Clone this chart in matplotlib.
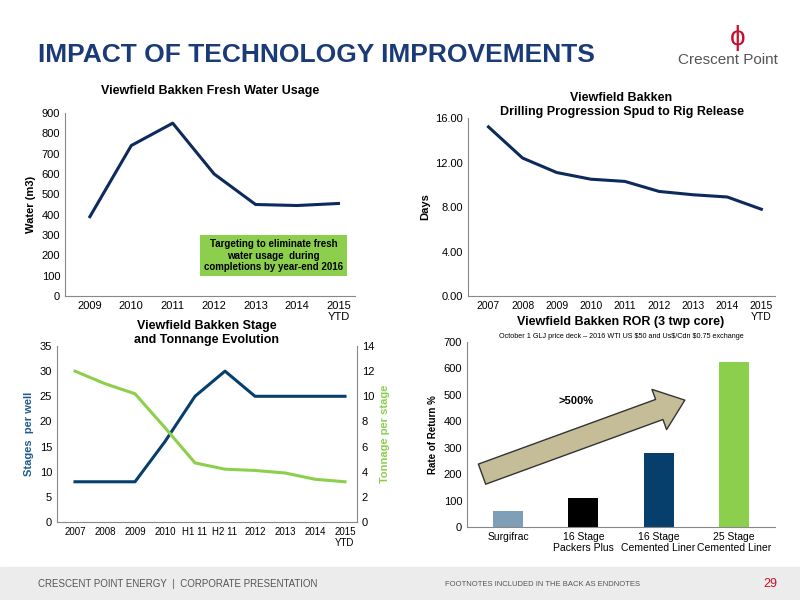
import matplotlib
matplotlib.use("Agg")
import matplotlib.pyplot as plt
from matplotlib.patches import Rectangle

water_years = ["2009", "2010", "2011", "2012", "2013", "2014", "2015\nYTD"]
water_vals = [390, 740, 850, 600, 450, 445, 455]
days_years = ["2007", "2008", "2009", "2010", "2011", "2012", "2013", "2014", "2015\nYTD"]
days_vals = [15.2, 12.4, 11.1, 10.5, 10.3, 9.4, 9.1, 8.9, 7.8]
stage_periods = ["2007", "2008", "2009", "2010", "H1 11", "H2 11", "2012", "2013", "2014", "2015\nYTD"]
stages_vals = [8, 8, 8, 16, 25, 30, 25, 25, 25, 25]
tonnage_vals = [12, 11, 10.2, 7.5, 4.7, 4.2, 4.1, 3.9, 3.4, 3.2]
ror_cats = ["Surgifrac", "16 Stage\nPackers Plus", "16 Stage\nCemented Liner", "25 Stage\nCemented Liner"]
ror_vals = [60, 110, 280, 625]
ror_colors = ["#7f9fb8", "#000000", "#063f6b", "#8ccf4d"]

NAVY = "#0c2a5b"
GREEN = "#8ccf4d"
plt.rcParams['font.family'] = ['Liberation Sans', 'DejaVu Sans']
fig = plt.figure(figsize=(8, 6), dpi=100)

def ax_px(l, t, r, b):
    return fig.add_axes([l/800, 1-b/600, (r-l)/800, (b-t)/600])

def style(ax):
    for s in ["top", "right"]:
        ax.spines[s].set_visible(False)
    ax.spines["left"].set_color("#888888")
    ax.spines["bottom"].set_color("#888888")
    ax.tick_params(length=0, labelsize=8)

# header/footer
fig.text(38/800, 1-55/600, "IMPACT OF TECHNOLOGY IMPROVEMENTS", fontsize=19, fontweight="bold", color="#1a3a78", va="center")
fig.text(678/800, 1-60/600, "Crescent Point", fontsize=11, color="#555555", va="center")
fig.text(738/800, 1-38/600, "ϕ", fontsize=20, color="#c8102e", va="center", ha="center")
fig.patches.append(Rectangle((0, 0), 1, 33/600, transform=fig.transFigure, color="#ececec", zorder=0))
fig.text(38/800, 1-584/600, "CRESCENT POINT ENERGY  |  CORPORATE PRESENTATION", fontsize=7, color="#555555", va="center")
fig.text(445/800, 1-584/600, "FOOTNOTES INCLUDED IN THE BACK AS ENDNOTES", fontsize=5.5, color="#555555", va="center")
fig.text(770/800, 1-584/600, "29", fontsize=9, color="#c8102e", va="center", ha="center")

# chart 1
ax1 = ax_px(65, 113, 355, 296)
style(ax1)
x = range(len(water_years))
ax1.plot(x, water_vals, color=NAVY, lw=2.2)
ax1.set_ylim(0, 900); ax1.set_yticks(range(0, 901, 100))
ax1.set_xlim(-0.6, len(water_years)-0.6)
ax1.set_xticks(list(x)); ax1.set_xticklabels(water_years)
ax1.set_ylabel("Water (m3)", fontsize=8, fontweight="bold")
ax1.set_title("Viewfield Bakken Fresh Water Usage", fontsize=9, fontweight="bold", pad=14)
ax1.text(0.72, 0.22, "Targeting to eliminate fresh\nwater usage  during\ncompletions by year-end 2016",
         transform=ax1.transAxes, ha="center", va="center", fontsize=7, fontweight="bold",
         bbox=dict(boxstyle="square,pad=0.4", fc=GREEN, ec="none"))

# chart 2
ax2 = ax_px(468, 118, 775, 296)
style(ax2)
x = range(len(days_years))
ax2.plot(x, days_vals, color=NAVY, lw=2.2)
ax2.set_ylim(0, 16); ax2.set_yticks([0, 4, 8, 12, 16])
ax2.set_yticklabels(["0.00", "4.00", "8.00", "12.00", "16.00"])
ax2.set_xlim(-0.6, len(days_years)-0.6)
ax2.set_xticks(list(x)); ax2.set_xticklabels(days_years)
ax2.tick_params(axis="x", labelsize=7.5)
ax2.set_ylabel("Days", fontsize=8, fontweight="bold")
ax2.set_title("Viewfield Bakken\nDrilling Progression Spud to Rig Release", fontsize=9, fontweight="bold", pad=0)

# chart 3
ax3 = ax_px(57, 346, 357, 522)
style(ax3)
x = range(len(stage_periods))
ax3.plot(x, stages_vals, color="#063f6b", lw=2.2)
ax3.set_ylim(0, 35); ax3.set_yticks(range(0, 36, 5))
ax3.set_xlim(-0.6, len(stage_periods)-0.6)
ax3.set_xticks(list(x)); ax3.set_xticklabels(stage_periods)
ax3.tick_params(axis="x", labelsize=7)
ax3.set_ylabel("Stages  per well", fontsize=8, fontweight="bold", color="#1f5b8c")
ax3.set_title("Viewfield Bakken Stage\nand Tonnange Evolution", fontsize=9, fontweight="bold", pad=-8)
ax3b = ax3.twinx()
ax3b.plot(x, tonnage_vals, color=GREEN, lw=2.2)
ax3b.set_ylim(0, 14); ax3b.set_yticks(range(0, 15, 2))
for s in ["top", "left", "bottom"]:
    ax3b.spines[s].set_visible(False)
ax3b.spines["right"].set_color("#888888")
ax3b.tick_params(length=0, labelsize=8)
ax3b.set_ylabel("Tonnage per stage", fontsize=8, fontweight="bold", color=GREEN)

# chart 4
ax4 = ax_px(467, 342, 775, 527)
style(ax4)
x = range(len(ror_cats))
ax4.bar(x, ror_vals, width=0.4, color=ror_colors)
ax4.set_ylim(0, 700); ax4.set_yticks(range(0, 701, 100))
ax4.set_xlim(-0.55, len(ror_cats)-0.45)
ax4.set_xticks(list(x)); ax4.set_xticklabels(ror_cats, fontsize=7.5)
ax4.set_ylabel("Rate of Return %", fontsize=7, fontweight="bold")
ax4.set_title("Viewfield Bakken ROR (3 twp core)", fontsize=9, fontweight="bold", pad=12)
ax4.text(0.5, 1.02, "October 1 GLJ price deck – 2016 WTI US $50 and Us$/Cdn $0.75 exchange",
         transform=ax4.transAxes, ha="center", fontsize=5.2)
ax4.annotate("", xy=(2.35, 480), xytext=(-0.35, 200),
             arrowprops=dict(arrowstyle="simple,head_width=2.2,head_length=1.4,tail_width=1.1",
                             mutation_scale=14, fc="#c4bd97", ec="#333333", lw=1,
                             shrinkA=0, shrinkB=0))
ax4.text(0.9, 465, ">500%", fontsize=8, fontweight="bold", ha="center")

fig.savefig("out.png", dpi=100)
